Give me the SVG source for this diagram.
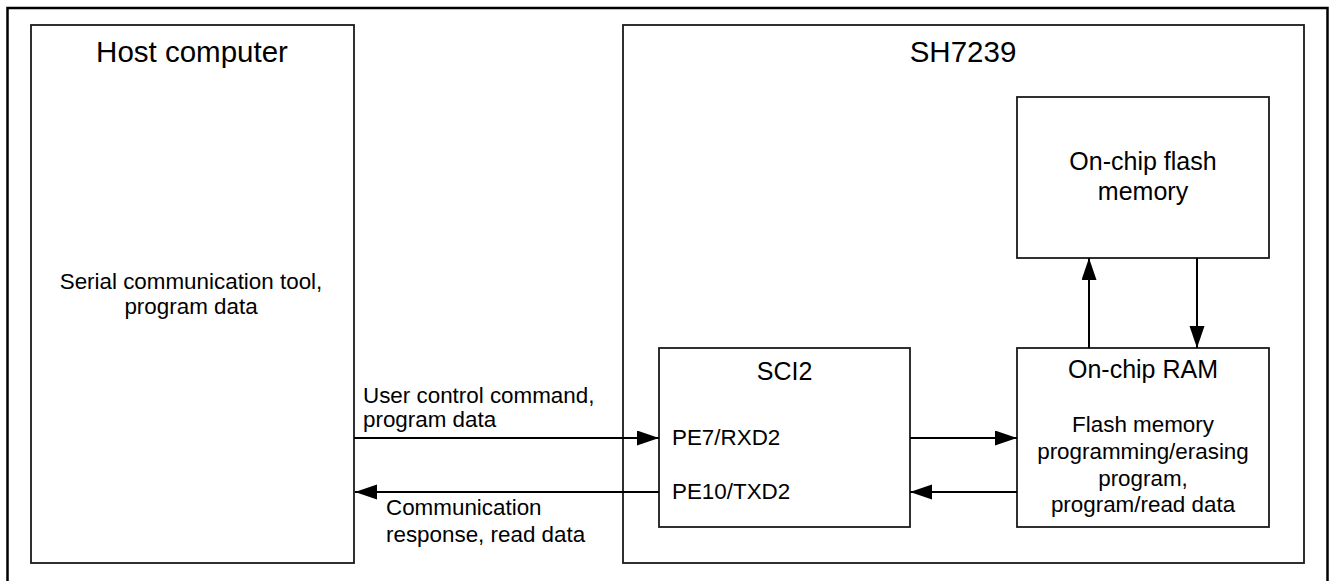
<svg xmlns="http://www.w3.org/2000/svg" width="1330" height="581" viewBox="0 0 1330 581">
<style>
  .box { fill: #ffffff; stroke: #1a1a1a; stroke-width: 1.8; }
  .frame { fill: none; stroke: #000000; stroke-width: 2.5; }
  .conn { stroke: #000000; stroke-width: 2; fill: none; marker-end: url(#arrow); }
  text { font-family: "Liberation Sans", Arial, sans-serif; fill: #000000; }
  .big { font-size: 29.5px; }
  .mid { font-size: 25px; }
  .sm { font-size: 22.4px; }
  .c { text-anchor: middle; }
</style>
<defs>
  <marker id="arrow" markerUnits="userSpaceOnUse" markerWidth="24" markerHeight="16" refX="22" refY="7.5" orient="auto">
    <path d="M0,0 L22,7.5 L0,15 Z" fill="#000000"/>
  </marker>
</defs>
<rect width="1330" height="581" fill="#ffffff"/>
<rect class="frame" x="7.5" y="8" width="1320" height="600"/>

<g id="host">
  <rect class="box" x="31" y="25" width="323" height="538"/>
  <text class="big c" x="192" y="62">Host computer</text>
  <text class="sm c" x="191" y="289">Serial communication tool,</text>
  <text class="sm c" x="191" y="314">program data</text>
</g>

<g id="sh7239">
  <rect class="box" x="623" y="25" width="681" height="538"/>
  <text class="big c" x="963" y="62">SH7239</text>
</g>

<g id="flash">
  <rect class="box" x="1017" y="97" width="252" height="161"/>
  <text class="mid c" x="1143" y="170">On-chip flash</text>
  <text class="mid c" x="1143" y="200">memory</text>
</g>

<g id="sci2">
  <rect class="box" x="659" y="348" width="251" height="179"/>
  <text class="mid c" x="784.5" y="380">SCI2</text>
  <text class="sm" x="672" y="445">PE7/RXD2</text>
  <text class="sm" x="672" y="499">PE10/TXD2</text>
</g>

<g id="ram">
  <rect class="box" x="1017" y="348" width="252" height="179"/>
  <text class="mid c" x="1143" y="378">On-chip RAM</text>
  <text class="sm c" x="1143" y="432">Flash memory</text>
  <text class="sm c" x="1143" y="459">programming/erasing</text>
  <text class="sm c" x="1143" y="486">program,</text>
  <text class="sm c" x="1143" y="512">program/read data</text>
</g>

<g id="connectors">
  <line class="conn" x1="354" y1="438" x2="659" y2="438"/>
  <line class="conn" x1="659" y1="492" x2="355" y2="492"/>
  <line class="conn" x1="910" y1="438" x2="1017" y2="438"/>
  <line class="conn" x1="1017" y1="492" x2="910" y2="492"/>
  <line class="conn" x1="1089" y1="348" x2="1089" y2="258"/>
  <line class="conn" x1="1197" y1="258" x2="1197" y2="348"/>
</g>

<g id="labels">
  <text class="sm" x="363" y="403">User control command,</text>
  <text class="sm" x="363" y="427">program data</text>
  <text class="sm" x="386" y="515">Communication</text>
  <text class="sm" x="386" y="542">response, read data</text>
</g>
</svg>
